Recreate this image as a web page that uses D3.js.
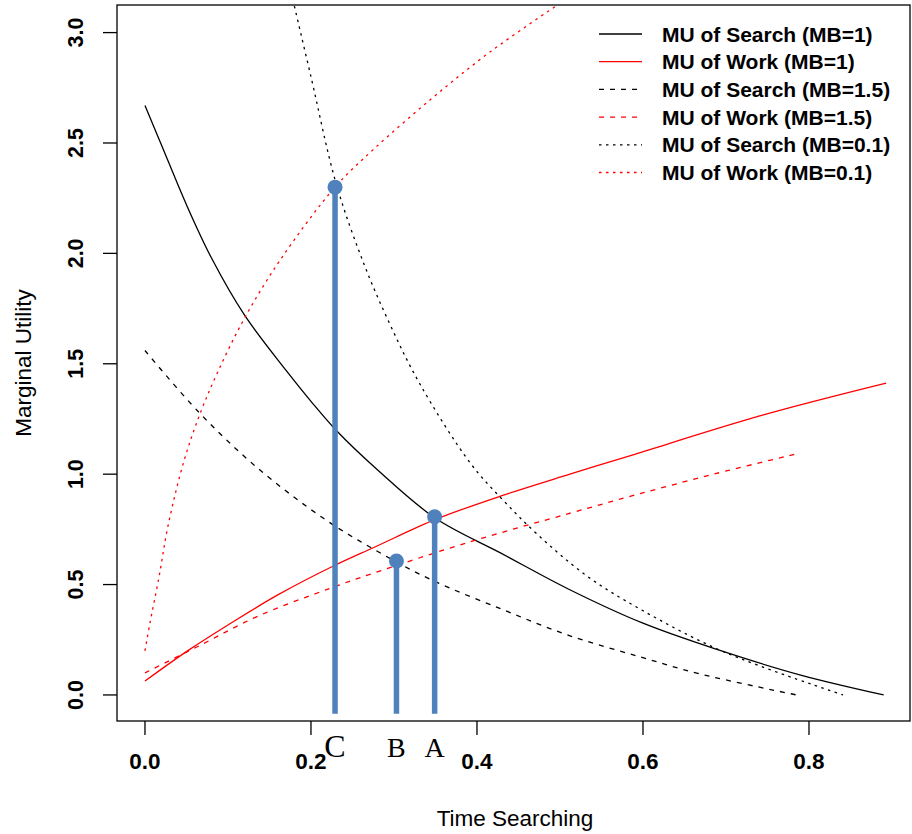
<!DOCTYPE html>
<html>
<head>
<meta charset="utf-8">
<script src="https://cdn.jsdelivr.net/npm/d3@7"></script>
<style>
  body { margin: 0; background: #fff; }
  svg { display: block; }
</style>
</head>
<body>
<main></main>
<script>
// Curve readings (time searching, marginal utility)
const searchMB1X = [0, 0.02, 0.05, 0.08, 0.12, 0.17, 0.2, 0.23, 0.28, 0.35, 0.43, 0.51, 0.6, 0.69, 0.79, 0.89];
const searchMB1Y = [2.67, 2.49, 2.22, 1.98, 1.72, 1.47, 1.33, 1.2, 1.02, 0.8, 0.64, 0.48, 0.325, 0.205, 0.09, 0.0];

const workMB1X = [0, 0.053, 0.1, 0.16, 0.227, 0.277, 0.35, 0.432, 0.512, 0.59, 0.745, 0.893];
const workMB1Y = [0.063, 0.204, 0.317, 0.453, 0.584, 0.67, 0.795, 0.905, 1.0, 1.09, 1.268, 1.412];

const searchMB15X = [0, 0.065, 0.135, 0.215, 0.278, 0.343, 0.432, 0.512, 0.596, 0.669, 0.785];
const searchMB15Y = [1.56, 1.28, 1.03, 0.8, 0.655, 0.525, 0.385, 0.268, 0.173, 0.095, 0.0];

const workMB15X = [0, 0.067, 0.135, 0.223, 0.274, 0.392, 0.512, 0.59, 0.685, 0.783];
const workMB15Y = [0.1, 0.226, 0.355, 0.483, 0.55, 0.694, 0.823, 0.905, 1.0, 1.09];

const searchMB01X = [0.18, 0.2, 0.23, 0.263, 0.295, 0.331, 0.392, 0.432, 0.472, 0.532, 0.596, 0.697, 0.841];
const searchMB01Y = [3.12, 2.8, 2.32, 1.96, 1.68, 1.41, 1.05, 0.88, 0.73, 0.54, 0.39, 0.196, 0.0];

const workMB01X = [0, 0.006, 0.017, 0.028, 0.047, 0.067, 0.087, 0.119, 0.162, 0.229, 0.275, 0.345, 0.416, 0.495];
const workMB01Y = [0.2, 0.325, 0.536, 0.77, 1.06, 1.28, 1.457, 1.7, 1.965, 2.3, 2.47, 2.7, 2.913, 3.12];

// Equilibrium points
const pointLabels = ["C", "B", "A"];
const pointX = [0.229, 0.303, 0.349];
const pointY = [2.3, 0.607, 0.807];
const stemBase = -0.085;

const legendLabels = [
  "MU of Search (MB=1)",
  "MU of Work (MB=1)",
  "MU of Search (MB=1.5)",
  "MU of Work (MB=1.5)",
  "MU of Search (MB=0.1)",
  "MU of Work (MB=0.1)",
];

const xTicks = [0, 0.2, 0.4, 0.6, 0.8];
const yTicks = [0, 0.5, 1, 1.5, 2, 2.5, 3];

// Dimensions
const w = 912;
const h = 834;
const plotL = 117, plotR = 910, plotT = 5, plotB = 721;

const svg = d3
  .select("main")
  .append("svg")
  .attr("width", w)
  .attr("height", h)
  .attr("viewBox", `0 0 ${w} ${h}`)
  .style("font-family", "Liberation Sans, Arial, sans-serif");

// Scales (R style 4% padding)
const xScale = d3.scaleLinear().domain([-0.0337, 0.9217]).range([plotL, plotR]);
const yScale = d3.scaleLinear().domain([-0.118, 3.125]).range([plotB, plotT]);

// Clip to plot region
svg
  .append("clipPath")
  .attr("id", "plot-clip")
  .append("rect")
  .attr("x", plotL)
  .attr("y", plotT)
  .attr("width", plotR - plotL)
  .attr("height", plotB - plotT);

const series = [
  { xs: searchMB1X, ys: searchMB1Y, color: "#000", dash: null },
  { xs: workMB1X, ys: workMB1Y, color: "#ff0000", dash: null },
  { xs: searchMB15X, ys: searchMB15Y, color: "#000", dash: "5,6" },
  { xs: workMB15X, ys: workMB15Y, color: "#ff0000", dash: "5,6" },
  { xs: searchMB01X, ys: searchMB01Y, color: "#000", dash: "2.5,4.5" },
  { xs: workMB01X, ys: workMB01Y, color: "#ff0000", dash: "2.5,4.5" },
];

const line = d3
  .line()
  .x((d) => xScale(d[0]))
  .y((d) => yScale(d[1]))
  .curve(d3.curveCatmullRom.alpha(0.5));

const curves = svg.append("g").attr("clip-path", "url(#plot-clip)");

curves
  .selectAll("path")
  .data(series)
  .enter()
  .append("path")
  .attr("d", (s) => line(s.xs.map((x, i) => [x, s.ys[i]])))
  .attr("fill", "none")
  .attr("stroke", (s) => s.color)
  .attr("stroke-width", 1.3)
  .attr("stroke-dasharray", (s) => s.dash);

// Stems and points
const points = pointLabels.map((lab, i) => ({ lab, x: pointX[i], y: pointY[i] }));

svg
  .selectAll(".stem")
  .data(points)
  .enter()
  .append("line")
  .attr("class", "stem")
  .attr("x1", (d) => xScale(d.x))
  .attr("x2", (d) => xScale(d.x))
  .attr("y1", yScale(stemBase))
  .attr("y2", (d) => yScale(d.y))
  .attr("stroke", "#4f81bd")
  .attr("stroke-width", 5.5);

svg
  .selectAll(".dot")
  .data(points)
  .enter()
  .append("circle")
  .attr("class", "dot")
  .attr("cx", (d) => xScale(d.x))
  .attr("cy", (d) => yScale(d.y))
  .attr("r", 7.5)
  .attr("fill", "#4f81bd");

// Frame
svg
  .append("rect")
  .attr("x", plotL)
  .attr("y", plotT)
  .attr("width", plotR - plotL)
  .attr("height", plotB - plotT)
  .attr("fill", "none")
  .attr("stroke", "#000")
  .attr("stroke-width", 1.3);

// X axis
const xAxis = svg.append("g").attr("transform", `translate(0, ${plotB})`);
xAxis
  .selectAll("line")
  .data(xTicks)
  .enter()
  .append("line")
  .attr("x1", (d) => xScale(d))
  .attr("x2", (d) => xScale(d))
  .attr("y1", 0)
  .attr("y2", 14)
  .attr("stroke", "#000")
  .attr("stroke-width", 1.3);
xAxis
  .selectAll("text")
  .data(xTicks)
  .enter()
  .append("text")
  .attr("x", (d) => xScale(d))
  .attr("y", 48)
  .attr("text-anchor", "middle")
  .attr("font-size", 22.5)
  .attr("font-weight", "bold")
  .text((d) => d.toFixed(1));

// Y axis
const yAxis = svg.append("g").attr("transform", `translate(${plotL}, 0)`);
yAxis
  .selectAll("line")
  .data(yTicks)
  .enter()
  .append("line")
  .attr("x1", -14)
  .attr("x2", 0)
  .attr("y1", (d) => yScale(d))
  .attr("y2", (d) => yScale(d))
  .attr("stroke", "#000")
  .attr("stroke-width", 1.3);
yAxis
  .selectAll("text")
  .data(yTicks)
  .enter()
  .append("text")
  .attr("transform", (d) => `translate(-34, ${yScale(d)}) rotate(-90)`)
  .attr("text-anchor", "middle")
  .attr("font-size", 21.5)
  .attr("font-weight", "bold")
  .text((d) => d.toFixed(1));

// Axis titles
svg
  .append("text")
  .attr("x", 515)
  .attr("y", 826)
  .attr("text-anchor", "middle")
  .attr("font-size", 22.5)
  .text("Time Searching");

svg
  .append("text")
  .attr("transform", `translate(31, ${(plotT + plotB) / 2}) rotate(-90)`)
  .attr("text-anchor", "middle")
  .attr("font-size", 22.5)
  .text("Marginal Utility");

// Point letters under the axis
svg
  .selectAll(".plabel")
  .data(points)
  .enter()
  .append("text")
  .attr("class", "plabel")
  .attr("x", (d) => xScale(d.x))
  .attr("y", 757)
  .attr("text-anchor", "middle")
  .attr("font-family", "Liberation Serif, DejaVu Serif, serif")
  .attr("font-size", (d) => (d.lab === "C" ? 32 : 28))
  .text((d) => d.lab);

// Legend
const legend = svg.append("g").attr("transform", "translate(599, 34)");
const rows = legend
  .selectAll("g")
  .data(series)
  .enter()
  .append("g")
  .attr("transform", (d, i) => `translate(0, ${i * 27.7})`);
rows
  .append("line")
  .attr("x1", 0)
  .attr("x2", 43)
  .attr("stroke", (d) => d.color)
  .attr("stroke-width", 1.3)
  .attr("stroke-dasharray", (d) => d.dash);
rows
  .append("text")
  .attr("x", 63)
  .attr("y", 7.5)
  .attr("font-size", 21)
  .attr("font-weight", "bold")
  .text((d, i) => legendLabels[i]);
</script>
</body>
</html>
